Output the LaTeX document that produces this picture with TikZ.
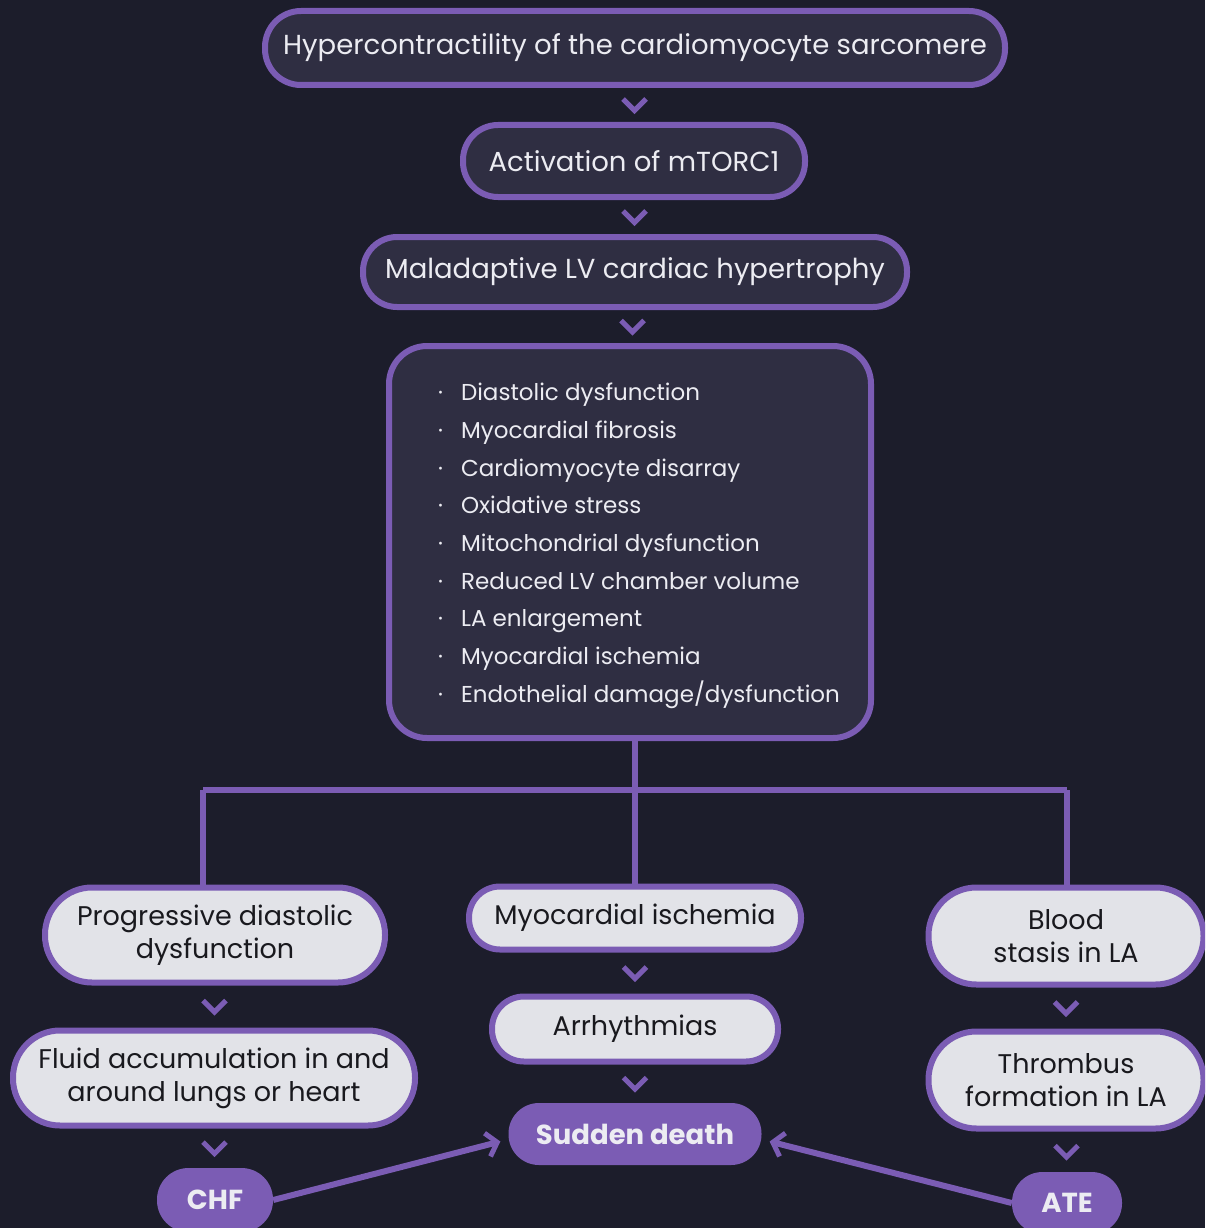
\documentclass[tikz,border=0pt]{standalone}
\usepackage{fontspec}
\setmainfont{Poppins}
\usetikzlibrary{arrows.meta,calc}
\definecolor{bg}{RGB}{28,29,43}
\definecolor{pur}{RGB}{123,92,180}
\definecolor{darkfill}{RGB}{47,46,66}
\definecolor{lightfill}{RGB}{226,227,232}
\definecolor{ink}{RGB}{25,25,30}
\definecolor{paper}{RGB}{236,236,242}
\tikzset{
  darkbox/.style={draw=pur, line width=6pt, fill=darkfill, text=paper, inner sep=0pt, align=center, font=\fontsize{27.5}{32}\selectfont},
  lightbox/.style={draw=pur, line width=6pt, fill=lightfill, text=ink, inner sep=0pt, align=center, font=\fontsize{27}{33}\selectfont},
  endbox/.style={fill=pur, text=paper, inner sep=0pt, align=center, font=\bfseries\fontsize{27.5}{32}\selectfont},
  conn/.style={draw=pur, line width=6pt},
  tipconn/.style={conn, -{Straight Barb[length=10pt,width=24pt,line width=5pt]}, shorten >=2pt},
  chevst/.style={draw=pur, line width=5pt, miter limit=3},
  chevron/.pic={\draw[chevst] (-11.5,-6) -- (0,5.5) -- (11.5,-6);}
}
\begin{document}
\begin{tikzpicture}[x=1pt,y=-1pt]
\fill[bg] (0,0) rectangle (1205,1228);
\useasboundingbox (0,0) rectangle (1205,1228);
\clip (0,0) rectangle (1205,1228);

% connector end points
\coordinate (j) at (635,790);
\coordinate (lsplit) at (203,790);
\coordinate (rsplit) at (1067,790);
\coordinate (listout) at (635,730);

% upper chain
\node[darkbox, minimum width=740pt, minimum height=74pt, rounded corners=36pt] (top) at (635,48) {Hypercontractility of the cardiomyocyte sarcomere};
\node[darkbox, minimum width=342pt, minimum height=72pt, rounded corners=35pt] (act) at (634,161) {Activation of mTORC1};
\node[darkbox, minimum width=544pt, minimum height=70pt, rounded corners=34pt] (mal) at (635,272) {Maladaptive LV cardiac hypertrophy};

\draw[conn] (listout) -- (j);
\draw[conn] (lsplit) -- (rsplit);
\draw[conn] (lsplit) -- (lsplit |- 0,890);
\draw[conn] (rsplit) -- (rsplit |- 0,890);
\draw[conn] (j) -- (j |- 0,890);

\node[darkbox, minimum width=482pt, minimum height=392pt, rounded corners=38pt] (list) at (630,542) {};
\node[text=paper, align=left, inner sep=0pt, anchor=north west, font=\fontsize{23}{37.7}\selectfont] (items) at (438,383) {%
·\hspace{18pt}Diastolic dysfunction\\
·\hspace{18pt}Myocardial fibrosis\\
·\hspace{18pt}Cardiomyocyte disarray\\
·\hspace{18pt}Oxidative stress\\
·\hspace{18pt}Mitochondrial dysfunction\\
·\hspace{18pt}Reduced LV chamber volume\\
·\hspace{18pt}LA enlargement\\
·\hspace{18pt}Myocardial ischemia\\
·\hspace{18pt}Endothelial damage/dysfunction};

% left branch
\node[lightbox, minimum width=340pt, minimum height=95pt, rounded corners=47pt] (prog) at (215,935) {Progressive diastolic\\dysfunction};
\node[lightbox, minimum width=402pt, minimum height=95pt, rounded corners=47pt] (fluid) at (214,1078) {Fluid accumulation in and\\around lungs or heart};
\node[endbox, minimum width=116pt, minimum height=64pt, rounded corners=31.5pt] (chf) at (215,1200) {CHF};

% middle branch
\node[lightbox, minimum width=332pt, minimum height=63pt, rounded corners=31pt] (mi) at (635,918) {Myocardial ischemia};
\node[lightbox, minimum width=286pt, minimum height=65pt, rounded corners=32pt] (arr) at (635,1029) {Arrhythmias};
\node[endbox, minimum width=253pt, minimum height=62pt, rounded corners=30.5pt] (sd) at (635,1134) {Sudden death};

% right branch
\node[lightbox, minimum width=275pt, minimum height=97pt, rounded corners=48pt] (blood) at (1066,936) {Blood\\stasis in LA};
\node[lightbox, minimum width=275pt, minimum height=97pt, rounded corners=48pt] (thr) at (1066,1080) {Thrombus\\formation in LA};
\node[endbox, minimum width=110pt, minimum height=62pt, rounded corners=30.5pt] (ate) at (1067,1203) {ATE};

% chevrons between stacked nodes
\foreach \a/\b in {top/act, act/mal, mal/list, prog/fluid, fluid/chf, mi/arr, arr/sd, blood/thr, thr/ate}
  \path (\a.south) -- (\b.north) pic[pos=0.5] {chevron};

% arrows into sudden death
\draw[tipconn] (chf.east) -- ($(sd.west)+(-6,7)$);
\draw[tipconn] (ate.west) -- ($(sd.east)+(6,7)$);
\end{tikzpicture}
\end{document}
